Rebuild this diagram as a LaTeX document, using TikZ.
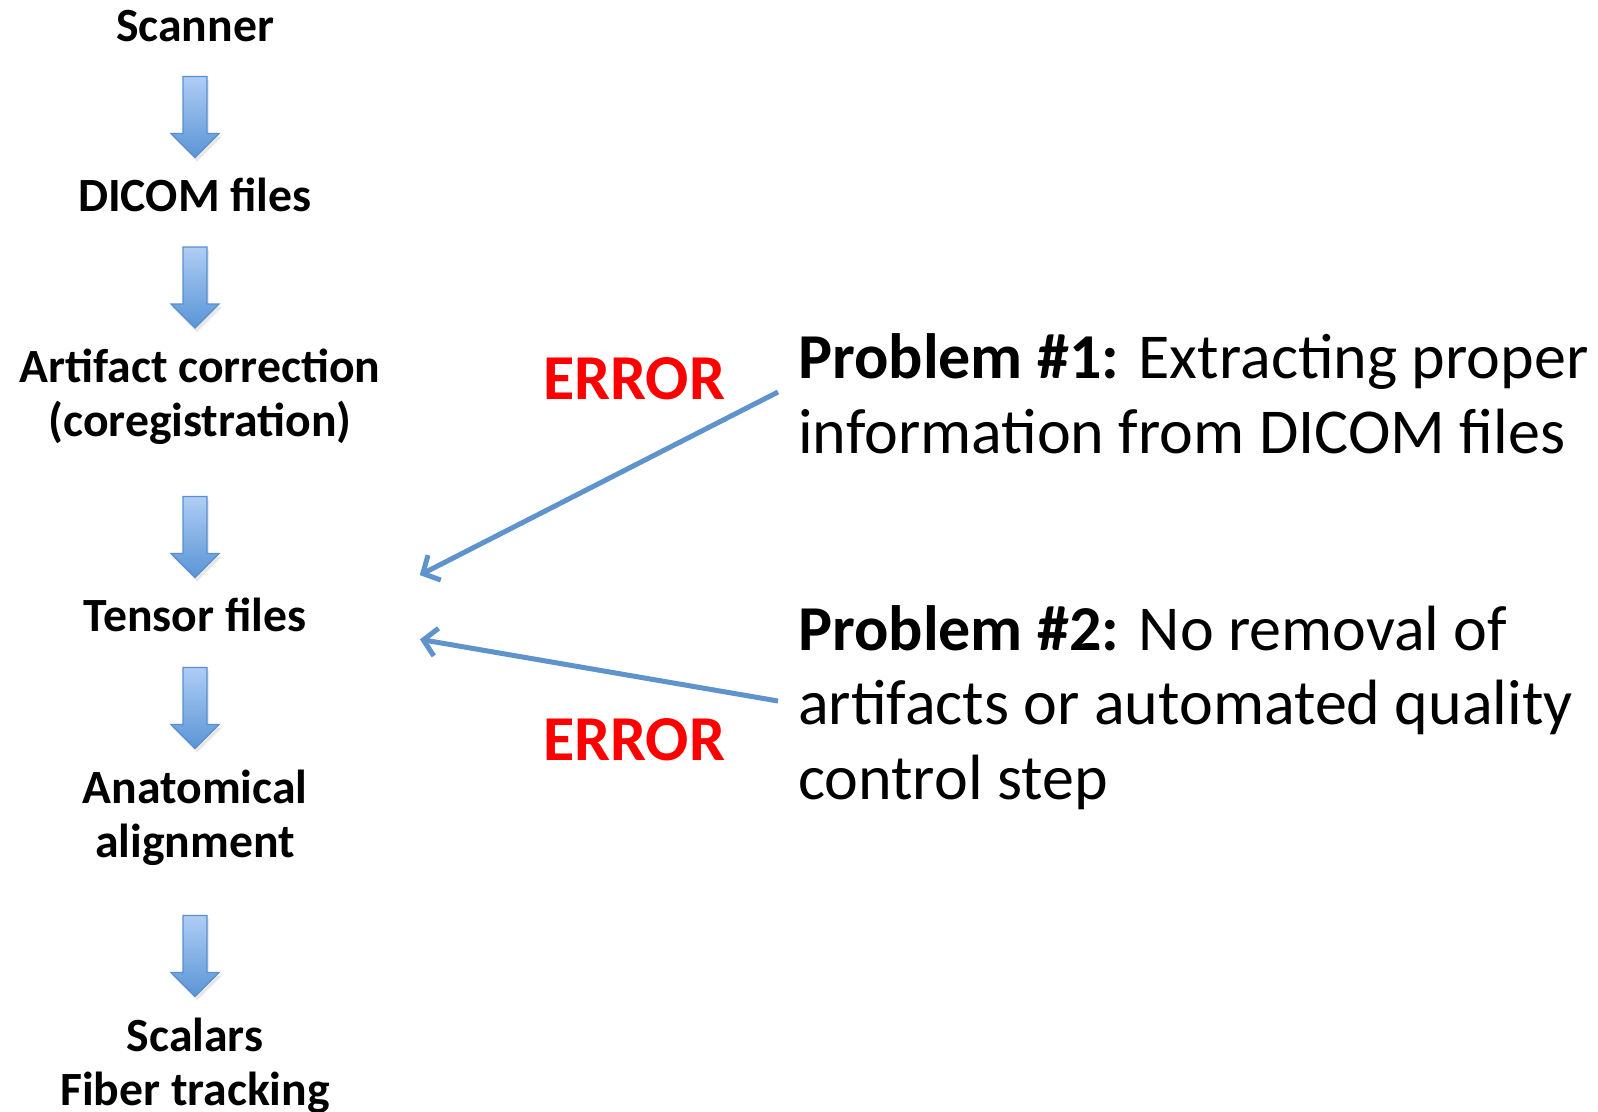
\documentclass[tikz,border=0pt]{standalone}
\usepackage{fontspec}
\setmainfont{Carlito}
\usetikzlibrary{arrows.meta,shadows}
\definecolor{arrowtop}{HTML}{AECDF5}
\definecolor{arrowbot}{HTML}{5A95D6}
\definecolor{arrowedge}{HTML}{5A8ED0}
\definecolor{linkblue}{HTML}{5F93CB}
\definecolor{errred}{HTML}{FF0000}
\tikzset{
  stepnode/.style={font=\bfseries\fontsize{47.7}{54}\selectfont, align=center, anchor=base, inner sep=0pt},
  probnode/.style={font=\fontsize{64}{74.5}\selectfont, align=left, anchor=base west, inner sep=0pt},
  errnode/.style={font=\bfseries\fontsize{64}{80}\selectfont, text=errred, anchor=base west, inner sep=0pt},
  link/.style={draw=linkblue, line width=5pt, -{Straight Barb[length=13pt,width=28pt,line width=5pt]}, shorten >=2pt},
  blockarrow/.pic={
    \path[fill=gray, opacity=0.18] (-12+2,-40.5+3) -- (12+2,-40.5+3) -- (12+2,16.5+3) -- (24+3,16.5+3) -- (0+2,40.5+4) -- (-24+1,16.5+3) -- (-12+2,16.5+3) -- cycle;
    \path[draw=arrowedge, line width=1.2pt, top color=arrowtop, bottom color=arrowbot]
      (-12,-40.5) -- (12,-40.5) -- (12,16.5) -- (24,16.5) -- (0,40.5) -- (-24,16.5) -- (-12,16.5) -- cycle;
  }
}
\begin{document}
\begin{tikzpicture}[x=1pt,y=-1pt]
\useasboundingbox (0,0) rectangle (1598,1111);
\fill[white] (0,0) rectangle (1598,1111);

\node[stepnode] (scanner) at (195,41) {Scanner};
\node[stepnode] (dicom) at (195,211) {DICOM files};
\node[stepnode] (artifact) at (200,436) {Artifact correction\\(coregistration)};
\node[stepnode] (tensor) at (195,631) {Tensor files};
\node[stepnode] (anat) at (195,857) {Anatomical\\alignment};
\node[stepnode] (scalars) at (195,1105) {Scalars\\Fiber tracking};

\pic at (195,117) {blockarrow};
\pic at (195,287.5) {blockarrow};
\pic at (195,537) {blockarrow};
\pic at (195,708) {blockarrow};
\pic at (195,956) {blockarrow};

\node[errnode] (err1) at (543,399) {ERROR};
\node[errnode] (err2) at (543,760) {ERROR};

\node[probnode] (p1) at (798,453) {\textbf{Problem \#1:} Extracting proper\\information from DICOM files};
\node[probnode] (p2) at (798,799) {\textbf{Problem \#2:} No removal of\\artifacts or automated quality\\control step};

\coordinate (s1) at (778,392);
\coordinate (t1) at (418,576);
\coordinate (s2) at (778,701);
\coordinate (t2) at (418,639);
\draw[link] (s1) -- (t1);
\draw[link] (s2) -- (t2);
\end{tikzpicture}
\end{document}
